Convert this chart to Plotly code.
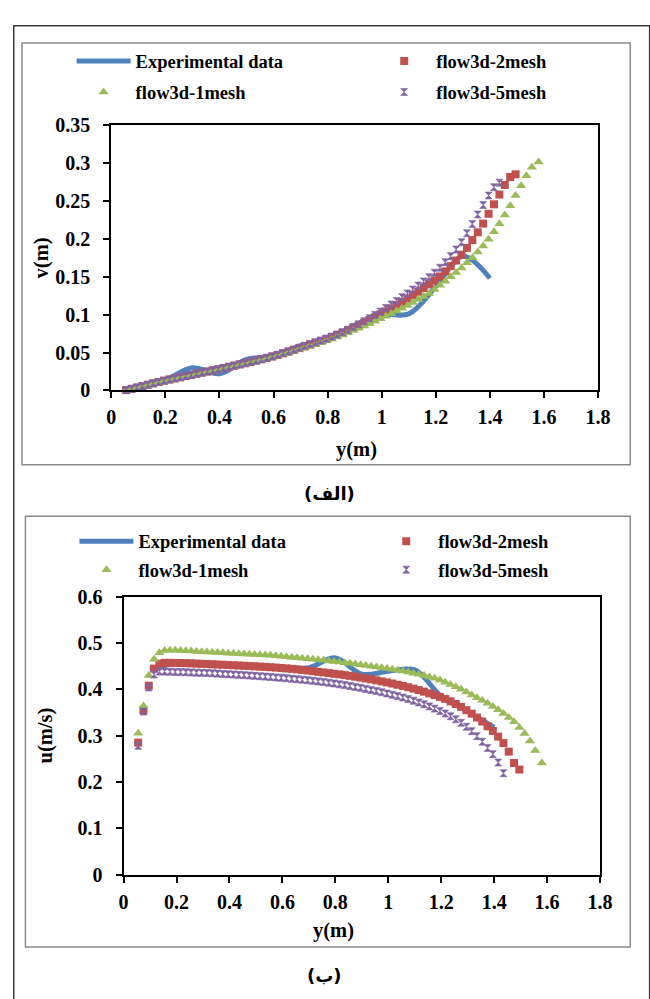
import plotly.graph_objects as go

# ---------------- data ----------------
SERIES_NAMES = ["Experimental data", "flow3d-2mesh", "flow3d-1mesh", "flow3d-5mesh"]

# lateral positions y (m) of the simulation sections
X_5MESH = [0.055, 0.075, 0.095, 0.115, 0.135, 0.155, 0.175, 0.195, 0.215, 0.235,
           0.255, 0.275, 0.295, 0.315, 0.335, 0.355, 0.375, 0.395, 0.415, 0.435,
           0.455, 0.475, 0.495, 0.515, 0.535, 0.555, 0.575, 0.595, 0.615, 0.635,
           0.655, 0.675, 0.695, 0.715, 0.735, 0.755, 0.775, 0.795, 0.815, 0.835,
           0.855, 0.875, 0.895, 0.915, 0.935, 0.955, 0.975, 0.995, 1.015, 1.035,
           1.055, 1.075, 1.095, 1.115, 1.135, 1.155, 1.175, 1.195, 1.215, 1.235,
           1.255, 1.275, 1.295, 1.315, 1.335, 1.355, 1.375, 1.395, 1.415, 1.435]
X_2MESH = X_5MESH + [1.455, 1.475, 1.495]
X_1MESH = X_2MESH + [1.515, 1.535, 1.555, 1.58]

# ---- panel (الف): v (m) ----
EXP_Y1 = [0.05, 0.1, 0.2, 0.3, 0.4, 0.5, 0.6, 0.7, 0.8, 0.9, 1.0, 1.1, 1.2, 1.3, 1.4]
EXP_V = [0.000, 0.005, 0.014, 0.030, 0.022, 0.041, 0.045, 0.059, 0.066, 0.086,
         0.100, 0.101, 0.137, 0.177, 0.148]

V_2MESH = [0.0004, 0.0021, 0.0039, 0.0057, 0.0075, 0.0093, 0.0111, 0.0128, 0.0144, 0.0159,
           0.0174, 0.0189, 0.0204, 0.0219, 0.0234, 0.0249, 0.0264, 0.0279, 0.0295, 0.0311,
           0.0327, 0.0343, 0.0359, 0.0376, 0.0393, 0.0411, 0.0429, 0.0448, 0.0468, 0.0490,
           0.0512, 0.0535, 0.0558, 0.0581, 0.0605, 0.0629, 0.0653, 0.0679, 0.0706, 0.0733,
           0.0762, 0.0792, 0.0824, 0.0857, 0.0892, 0.0928, 0.0965, 0.1003, 0.1042, 0.1082,
           0.1124, 0.1167, 0.1211, 0.1256, 0.1302, 0.1350, 0.1399, 0.1450, 0.1503, 0.1570,
           0.1640, 0.1713, 0.1790, 0.1880, 0.1983, 0.2085, 0.2200, 0.2330, 0.2455, 0.2583,
           0.2710, 0.2815, 0.2850]
V_1MESH = [0.0003, 0.0019, 0.0036, 0.0053, 0.0070, 0.0087, 0.0104, 0.0120, 0.0136, 0.0151,
           0.0166, 0.0181, 0.0196, 0.0211, 0.0226, 0.0241, 0.0256, 0.0271, 0.0286, 0.0302,
           0.0318, 0.0334, 0.0350, 0.0367, 0.0384, 0.0401, 0.0419, 0.0437, 0.0456, 0.0476,
           0.0497, 0.0519, 0.0541, 0.0563, 0.0585, 0.0607, 0.0630, 0.0654, 0.0679, 0.0705,
           0.0732, 0.0760, 0.0789, 0.0819, 0.0850, 0.0881, 0.0913, 0.0946, 0.0979, 0.1013,
           0.1048, 0.1084, 0.1121, 0.1159, 0.1198, 0.1238, 0.1280, 0.1330, 0.1388, 0.1441,
           0.1498, 0.1556, 0.1615, 0.1684, 0.1751, 0.1826, 0.1904, 0.1995, 0.2092, 0.2199,
           0.2314, 0.2436, 0.2570, 0.2700, 0.2830, 0.2942, 0.3012]
V_5MESH = [0.0005, 0.0022, 0.0040, 0.0058, 0.0076, 0.0094, 0.0112, 0.0130, 0.0146, 0.0161,
           0.0176, 0.0191, 0.0206, 0.0221, 0.0236, 0.0251, 0.0266, 0.0281, 0.0297, 0.0313,
           0.0329, 0.0345, 0.0361, 0.0378, 0.0395, 0.0413, 0.0431, 0.0450, 0.0471, 0.0493,
           0.0516, 0.0540, 0.0564, 0.0588, 0.0612, 0.0636, 0.0660, 0.0684, 0.0710, 0.0738,
           0.0768, 0.0800, 0.0837, 0.0874, 0.0913, 0.0953, 0.0995, 0.1040, 0.1086, 0.1133,
           0.1181, 0.1230, 0.1280, 0.1331, 0.1383, 0.1437, 0.1493, 0.1553, 0.1618, 0.1690,
           0.1770, 0.1858, 0.1955, 0.2072, 0.2195, 0.2320, 0.2445, 0.2570, 0.2680, 0.2740]

# ---- panel (ب): u (m/s) ----
EXP_Y2 = [0.1, 0.2, 0.3, 0.4, 0.5, 0.6, 0.7, 0.8, 0.9, 1.0, 1.1, 1.2, 1.3, 1.4]
EXP_U = [0.443, 0.457, 0.458, 0.452, 0.452, 0.447, 0.447, 0.468, 0.433, 0.439,
         0.442, 0.385, 0.352, 0.318]

U_2MESH = [0.285, 0.355, 0.408, 0.4450, 0.4555, 0.4573, 0.4574, 0.4572, 0.4570, 0.4566,
           0.4562, 0.4557, 0.4552, 0.4547, 0.4542, 0.4537, 0.4532, 0.4527, 0.4522, 0.4516,
           0.4510, 0.4504, 0.4498, 0.4492, 0.4486, 0.4479, 0.4471, 0.4463, 0.4454, 0.4444,
           0.4433, 0.4421, 0.4408, 0.4394, 0.4380, 0.4366, 0.4352, 0.4338, 0.4325, 0.4309,
           0.4292, 0.4274, 0.4255, 0.4236, 0.4216, 0.4195, 0.4173, 0.4150, 0.4126, 0.4101,
           0.4075, 0.4047, 0.4017, 0.3985, 0.3951, 0.3915, 0.3878, 0.3838, 0.3795, 0.3742,
           0.3684, 0.3622, 0.3551, 0.3476, 0.3392, 0.3305, 0.3203, 0.3102, 0.2980, 0.2840,
           0.2655, 0.2410, 0.2268]
U_1MESH = [0.305, 0.364, 0.430, 0.4650, 0.4790, 0.4840, 0.4848, 0.4844, 0.4839, 0.4833,
           0.4827, 0.4821, 0.4815, 0.4808, 0.4801, 0.4795, 0.4789, 0.4783, 0.4777, 0.4771,
           0.4765, 0.4759, 0.4753, 0.4747, 0.4741, 0.4735, 0.4728, 0.4716, 0.4703, 0.4693,
           0.4683, 0.4672, 0.4661, 0.4650, 0.4639, 0.4627, 0.4615, 0.4603, 0.4590, 0.4577,
           0.4563, 0.4548, 0.4533, 0.4518, 0.4502, 0.4486, 0.4469, 0.4452, 0.4434, 0.4415,
           0.4395, 0.4374, 0.4351, 0.4326, 0.4299, 0.4270, 0.4240, 0.4204, 0.4155, 0.4106,
           0.4055, 0.4003, 0.3946, 0.3880, 0.3821, 0.3758, 0.3698, 0.3631, 0.3558, 0.3477,
           0.3393, 0.3299, 0.3176, 0.3047, 0.2883, 0.2678, 0.2410]
U_5MESH = [0.278, 0.352, 0.404, 0.4320, 0.4385, 0.4385, 0.4382, 0.4378, 0.4374, 0.4370,
           0.4366, 0.4362, 0.4357, 0.4352, 0.4347, 0.4341, 0.4335, 0.4328, 0.4321, 0.4314,
           0.4307, 0.4300, 0.4292, 0.4284, 0.4276, 0.4268, 0.4259, 0.4250, 0.4240, 0.4230,
           0.4220, 0.4209, 0.4198, 0.4186, 0.4173, 0.4159, 0.4144, 0.4128, 0.4111, 0.4093,
           0.4074, 0.4054, 0.4033, 0.4011, 0.3988, 0.3964, 0.3939, 0.3912, 0.3884, 0.3855,
           0.3824, 0.3791, 0.3756, 0.3718, 0.3677, 0.3633, 0.3585, 0.3535, 0.3480, 0.3420,
           0.3353, 0.3278, 0.3193, 0.3097, 0.2990, 0.2870, 0.2735, 0.2600, 0.2420, 0.2190]

X_TICKS = [0, 0.2, 0.4, 0.6, 0.8, 1, 1.2, 1.4, 1.6, 1.8]
V_TICKS = [0, 0.05, 0.1, 0.15, 0.2, 0.25, 0.3, 0.35]
U_TICKS = [0, 0.1, 0.2, 0.3, 0.4, 0.5, 0.6]

# ---------------- styling ----------------
W, H = 650, 999
def px(x):
    return x / W
def py(y):
    return 1 - y / H

SERIF = "Liberation Serif"
BLUE, RED, GREEN, PURPLE = "#4F81BD", "#C0504D", "#9BBB59", "#8064A2"

fig = go.Figure()

def add_panel(xa, ya, exp_x, exp_y, y2m, y1m, y5m, legends):
    fig.add_trace(go.Scatter(x=exp_x, y=exp_y, mode="lines", name=SERIES_NAMES[0],
                             line=dict(color=BLUE, width=5, shape="spline", smoothing=1.0),
                             xaxis=xa, yaxis=ya, legend=legends[0], cliponaxis=False))
    fig.add_trace(go.Scatter(x=X_2MESH, y=y2m, mode="markers", name=SERIES_NAMES[1],
                             marker=dict(symbol="square", size=8, color=RED),
                             xaxis=xa, yaxis=ya, legend=legends[1], cliponaxis=False))
    fig.add_trace(go.Scatter(x=X_1MESH, y=y1m, mode="markers", name=SERIES_NAMES[2],
                             marker=dict(symbol="triangle-up", size=9, color=GREEN),
                             xaxis=xa, yaxis=ya, legend=legends[2], cliponaxis=False))
    fig.add_trace(go.Scatter(x=X_5MESH, y=y5m, mode="markers", name=SERIES_NAMES[3],
                             marker=dict(symbol="hourglass", size=7, color=PURPLE,
                                         line=dict(color=PURPLE, width=0.6)),
                             xaxis=xa, yaxis=ya, legend=legends[3], cliponaxis=False))

add_panel("x", "y", EXP_Y1, EXP_V, V_2MESH, V_1MESH, V_5MESH,
          ["legend", "legend2", "legend3", "legend4"])
add_panel("x2", "y2", EXP_Y2, EXP_U, U_2MESH, U_1MESH, U_5MESH,
          ["legend5", "legend6", "legend7", "legend8"])

tickfont = dict(family=SERIF, size=20, color="black", weight="bold")
axis_common = dict(showline=True, linecolor="black", linewidth=2, mirror=True,
                   ticks="outside", ticklen=6, tickwidth=2, tickcolor="black",
                   showgrid=False, zeroline=False, tickfont=tickfont)

leg_font = dict(family=SERIF, size=18.5, color="black", weight="bold")
def leg(xp, yp):
    return dict(x=px(xp), y=py(yp), xanchor="left", yanchor="middle",
                bgcolor="rgba(0,0,0,0)", borderwidth=0, font=leg_font,
                itemwidth=54, orientation="v")

title_font = dict(family=SERIF, size=20.5, color="black", weight="bold")
cap_font = dict(family="DejaVu Sans", size=18, color="black", weight="bold")

fig.update_layout(
    width=W, height=H, margin=dict(l=0, r=0, t=0, b=0),
    paper_bgcolor="white", plot_bgcolor="white", showlegend=True,
    xaxis=dict(domain=[px(109.3), px(610)], range=[0, 1.8], tickvals=X_TICKS,
               anchor="y", ticklabelstandoff=2, **axis_common),
    yaxis=dict(domain=[py(388), py(116.6)], range=[0, 0.35], tickvals=V_TICKS,
               anchor="x", ticklabelstandoff=9, **axis_common),
    xaxis2=dict(domain=[px(122), px(612)], range=[0, 1.8], tickvals=X_TICKS,
                anchor="y2", ticklabelstandoff=2, **axis_common),
    yaxis2=dict(domain=[py(883), py(599)], range=[0, 0.6], tickvals=U_TICKS,
                anchor="x2", ticklabelstandoff=9, **axis_common),
    legend=leg(68.5, 51.7), legend2=leg(377.7, 51.7),
    legend3=leg(68.5, 83.3), legend4=leg(377.7, 83.3),
    legend5=leg(71.4, 542.7), legend6=leg(379.75, 542.7),
    legend7=leg(71.4, 571.7), legend8=leg(379.75, 571.7),
    shapes=[
        dict(type="rect", xref="paper", yref="paper", x0=px(9), x1=1.02, y0=-0.02, y1=py(15),
             line=dict(color="#3a3a3a", width=1.5)),
        dict(type="rect", xref="paper", yref="paper", x0=px(17.5), x1=px(643), y0=py(464), y1=py(32.7),
             line=dict(color="#8a8a8a", width=1.5)),
        dict(type="rect", xref="paper", yref="paper", x0=px(21), x1=px(643), y0=py(957), y1=py(516.7),
             line=dict(color="#8a8a8a", width=1.5)),
    ],
    annotations=[
        dict(text="v(m)", x=px(37), y=py(252), xref="paper", yref="paper", textangle=-90,
             showarrow=False, font=title_font, xanchor="center", yanchor="middle"),
        dict(text="y(m)", x=px(361), y=py(448), xref="paper", yref="paper",
             showarrow=False, font=title_font, xanchor="center", yanchor="middle"),
        dict(text="u(m/s)", x=px(42), y=py(741), xref="paper", yref="paper", textangle=-90,
             showarrow=False, font=title_font, xanchor="center", yanchor="middle"),
        dict(text="y(m)", x=px(338), y=py(940), xref="paper", yref="paper",
             showarrow=False, font=title_font, xanchor="center", yanchor="middle"),
        dict(text="(الف)", x=px(334), y=py(493), xref="paper", yref="paper",
             showarrow=False, font=cap_font, xanchor="center", yanchor="middle"),
        dict(text="(ب)", x=px(329), y=py(986), xref="paper", yref="paper",
             showarrow=False, font=cap_font, xanchor="center", yanchor="middle"),
    ],
)

fig.write_html("out.html")
